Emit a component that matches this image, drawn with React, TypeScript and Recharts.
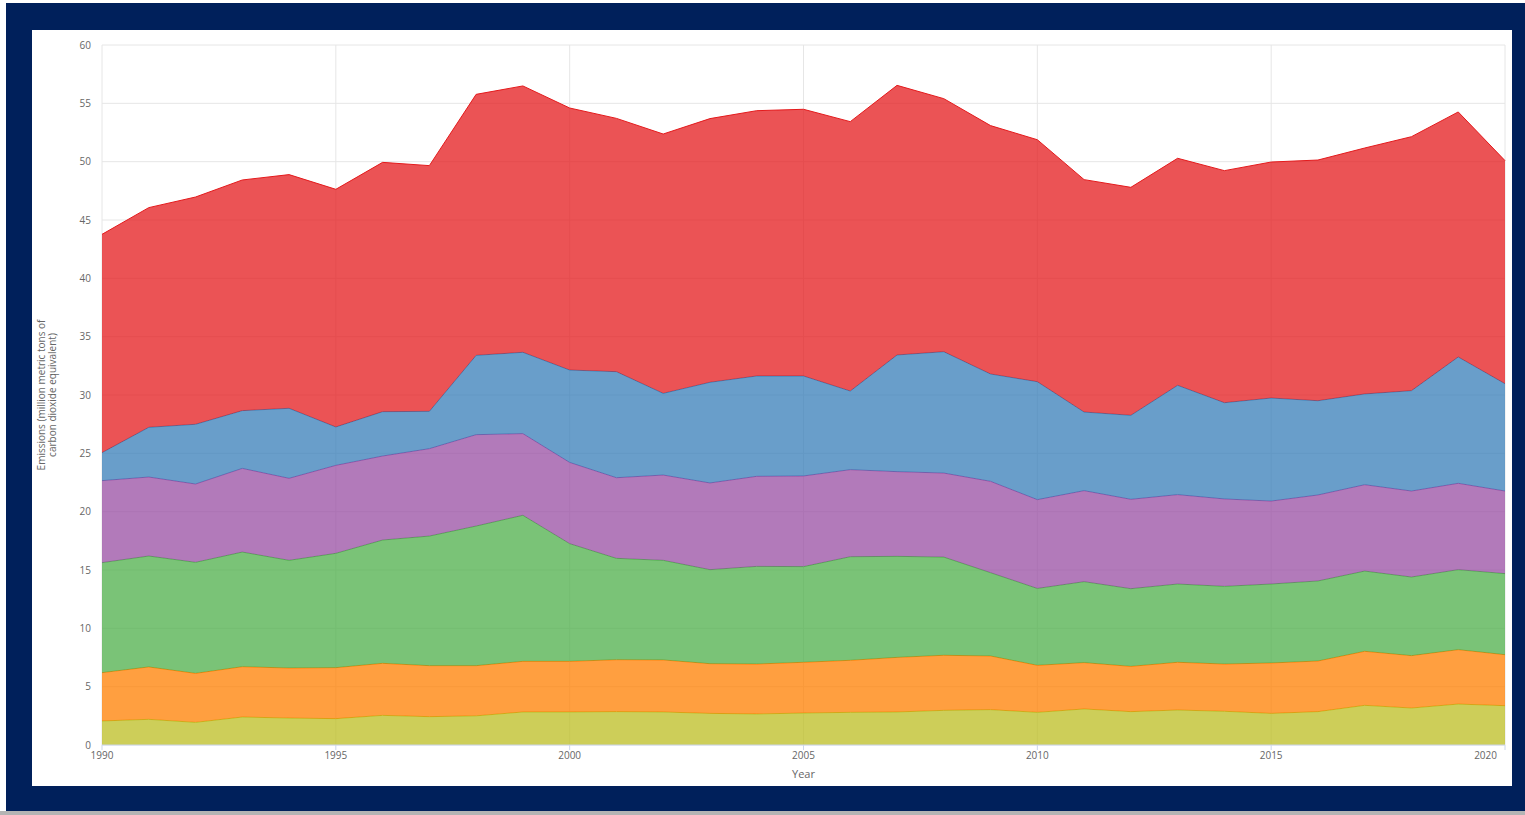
import React from 'react';
import { AreaChart, Area, XAxis, YAxis, CartesianGrid } from 'recharts';

const years = [1990, 1991, 1992, 1993, 1994, 1995, 1996, 1997, 1998, 1999, 2000, 2001, 2002, 2003, 2004, 2005, 2006, 2007, 2008, 2009, 2010, 2011, 2012, 2013, 2014, 2015, 2016, 2017, 2018, 2019, 2020];

const seriesA = [2.06, 2.2, 1.94, 2.4, 2.31, 2.26, 2.54, 2.43, 2.5, 2.83, 2.83, 2.86, 2.83, 2.71, 2.66, 2.74, 2.8, 2.83, 2.97, 3.03, 2.8, 3.09, 2.86, 3.0, 2.89, 2.71, 2.86, 3.4, 3.17, 3.51, 3.37];
const seriesB = [4.14, 4.49, 4.2, 4.31, 4.29, 4.37, 4.46, 4.37, 4.3, 4.34, 4.34, 4.45, 4.46, 4.26, 4.28, 4.35, 4.46, 4.68, 4.72, 4.6, 4.03, 3.97, 3.88, 4.09, 4.05, 4.32, 4.34, 4.63, 4.49, 4.66, 4.37];
const seriesC = [9.43, 9.51, 9.52, 9.83, 9.23, 9.8, 10.57, 11.11, 11.97, 12.52, 10.09, 8.69, 8.54, 8.06, 8.37, 8.2, 8.88, 8.66, 8.42, 7.14, 6.59, 6.94, 6.66, 6.71, 6.66, 6.77, 6.86, 6.88, 6.74, 6.86, 6.95];
const seriesD = [7.03, 6.77, 6.71, 7.17, 7.03, 7.54, 7.2, 7.49, 7.83, 7.0, 6.96, 6.91, 7.31, 7.43, 7.72, 7.77, 7.46, 7.26, 7.2, 7.83, 7.61, 7.8, 7.66, 7.66, 7.49, 7.11, 7.37, 7.4, 7.37, 7.4, 7.08];
const seriesE = [2.4, 4.26, 5.12, 4.95, 6.0, 3.29, 3.8, 3.2, 6.8, 6.97, 7.92, 9.09, 7.0, 8.63, 8.6, 8.57, 6.74, 10.0, 10.4, 9.2, 10.11, 6.74, 7.2, 9.37, 8.25, 8.83, 8.08, 7.78, 8.6, 10.83, 9.2];
const seriesF = [18.71, 18.83, 19.48, 19.77, 20.03, 20.37, 21.37, 21.06, 22.37, 22.83, 22.46, 21.71, 22.23, 22.6, 22.74, 22.86, 23.09, 23.11, 21.69, 21.29, 20.74, 19.92, 19.54, 19.46, 19.89, 20.23, 20.63, 21.08, 21.77, 21.0, 19.12];

const xTicks = [1990, 1995, 2000, 2005, 2010, 2015, 2020];
const yTicks = [0, 5, 10, 15, 20, 25, 30, 35, 40, 45, 50, 55, 60];

const seriesKeys = ['a', 'b', 'c', 'd', 'e', 'f'];
const seriesColors = ['#bcbd22', '#ff7f00', '#4daf4a', '#984ea3', '#377eb8', '#e41a1c'];

const data = years.map((year, i) => ({
  year,
  a: seriesA[i],
  b: seriesB[i],
  c: seriesC[i],
  d: seriesD[i],
  e: seriesE[i],
  f: seriesF[i],
}));

const FONT = '"Open Sans", "DejaVu Sans", sans-serif';
const lastYear = years[years.length - 1];

const XTick = (props: any) => {
  const { x, y, payload } = props;
  const isLast = payload.value === lastYear;
  return (
    <text
      x={isLast ? x + 1 : x}
      y={y}
      dy="0.71em"
      textAnchor={isLast ? 'end' : 'middle'}
      fill="#666666"
      fontSize={10}
      fontFamily={FONT}
    >
      {payload.value}
    </text>
  );
};

const YLabel = () => (
  <g>
    <text
      transform="translate(13, 365) rotate(-90)"
      textAnchor="middle"
      fill="#666666"
      fontSize={10}
      fontFamily={FONT}
    >
      Emissions (million metric tons of
    </text>
    <text
      transform="translate(23.5, 365) rotate(-90)"
      textAnchor="middle"
      fill="#666666"
      fontSize={10}
      fontFamily={FONT}
    >
      carbon dioxide equivalent)
    </text>
  </g>
);

export default function App() {
  return (
    <div style={{ position: 'relative', width: 1525, height: 815, background: '#ffffff', overflow: 'hidden' }}>
      <style>{'body{margin:0}'}</style>
      <div style={{ position: 'absolute', left: 0, top: 811, width: 1525, height: 4, background: '#b4b4b4' }} />
      <div style={{ position: 'absolute', left: 6, top: 3, width: 1519, height: 808, background: '#00205b' }} />
      <div style={{ position: 'absolute', left: 32, top: 30, width: 1480, height: 756, background: '#ffffff' }}>
        <AreaChart
          width={1480}
          height={756}
          data={data}
          margin={{ top: 15, right: 7, bottom: 0, left: 0 }}
        >
          <CartesianGrid stroke="#e6e6e6" strokeWidth={1} />
          <XAxis
            dataKey="year"
            type="number"
            domain={[1990, 2020]}
            ticks={xTicks}
            height={41}
            tickSize={5}
            tickMargin={2}
            axisLine={{ stroke: '#ccd6eb' }}
            tickLine={{ stroke: '#ccd6eb' }}
            tick={<XTick />}
            label={{ value: 'Year', position: 'insideBottom', offset: 8, fill: '#666666', fontSize: 11, fontFamily: FONT }}
          />
          <YAxis
            type="number"
            domain={[0, 60]}
            ticks={yTicks}
            width={70}
            tickSize={6}
            tickMargin={5}
            axisLine={false}
            tickLine={false}
            tick={{ fill: '#666666', fontSize: 10, fontFamily: FONT }}
            label={<YLabel />}
          />
          {seriesKeys.map((k, i) => (
            <Area
              key={k}
              type="linear"
              dataKey={k}
              stackId="1"
              stroke={seriesColors[i]}
              strokeWidth={1}
              fill={seriesColors[i]}
              fillOpacity={0.75}
              dot={false}
              activeDot={false}
              isAnimationActive={false}
            />
          ))}
        </AreaChart>
      </div>
    </div>
  );
}
